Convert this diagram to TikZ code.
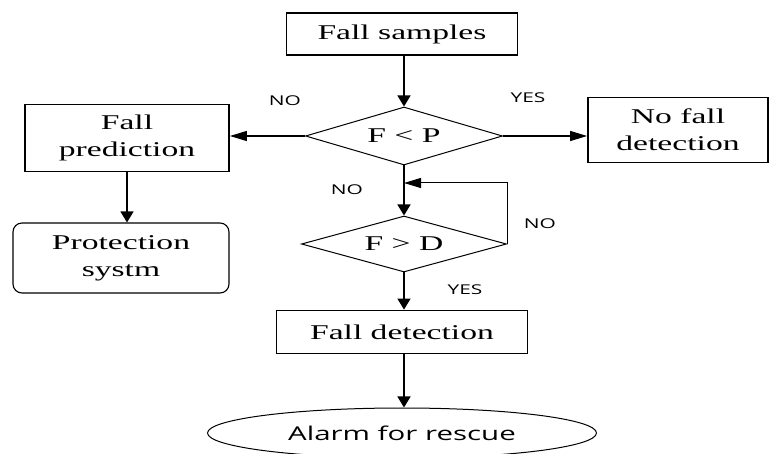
\documentclass[tikz,border=0pt]{standalone}
\usepackage{fontspec}
\setmainfont{Liberation Serif}[FakeStretch=1.6]
\newfontfamily\labfont{Open Sans}[FakeStretch=1.55]
\usetikzlibrary{shapes.geometric,arrows.meta}
\begin{document}
\begin{tikzpicture}[x=1pt,y=-1pt,
  box/.style={draw, line width=1.8pt, inner sep=0pt, align=center,
    font=\fontsize{21}{27}\selectfont},
  rbox/.style={box, line width=1.1pt, rounded corners=9pt},
  dia/.style={draw, diamond, line width=1pt, inner sep=0pt, aspect=3.4,
    font=\fontsize{21}{26}\selectfont},
  term/.style={draw, ellipse, line width=1pt, inner sep=0pt,
    font=\labfont\fontsize{19}{22}\selectfont},
  lab/.style={font=\labfont\fontsize{13.5}{16}\selectfont, inner sep=0pt},
  varr/.style={line width=1.4pt, -{Triangle[length=11pt,width=13pt]}},
  harr/.style={line width=1.2pt, -{Triangle[length=17pt,width=10pt]}}
]
\clip (0,0) rectangle (769,454);
\useasboundingbox (0,0) rectangle (769,454);
\fill[white] (0,0) rectangle (769,454);

\node[box, minimum width=231pt, minimum height=42pt] (samples) at (402,34) {Fall samples};
\node[dia, minimum width=197pt, minimum height=58pt] (d1) at (404,136) {F < P};
\node[box, minimum width=204pt, minimum height=67pt] (pred) at (127,138) {Fall\\prediction};
\node[rbox, minimum width=216pt, minimum height=70pt] (prot) at (121,258) {Protection\\systm};
\node[box, minimum width=180pt, minimum height=65pt] (nofall) at (678,130) {No fall\\detection};
\node[dia, minimum width=205pt, minimum height=56pt] (d2) at (404,244) {F > D};
\node[box, minimum width=251pt, minimum height=43pt] (det) at (402,332) {Fall detection};
\node[term, minimum width=389pt, minimum height=50pt] (alarm) at (402,433) {Alarm for rescue};

\coordinate (j) at (404,183);

\draw[varr] (samples.south -| d1.north) -- (d1.north);
\draw[harr] (d1.west) -- (pred.east |- d1.west);
\draw[harr] (d1.east) -- (nofall.west |- d1.east);
\draw[varr] (pred.south) -- (pred.south |- prot.north);
\draw[varr] (d1.south) -- (d2.north);
\draw[harr, line width=1pt] (d2.east) |- (j);
\draw[varr] (d2.south) -- (d2.south |- det.north);
\draw[varr] (det.south -| d2.south) -- (d2.south |- alarm.north);

\node[lab] (l1) at (285,101) {NO};
\node[lab] (l2) at (528,98) {YES};
\node[lab] (l3) at (347,190) {NO};
\node[lab] (l4) at (540,224) {NO};
\node[lab] (l5) at (465,290) {YES};
\end{tikzpicture}
\end{document}
